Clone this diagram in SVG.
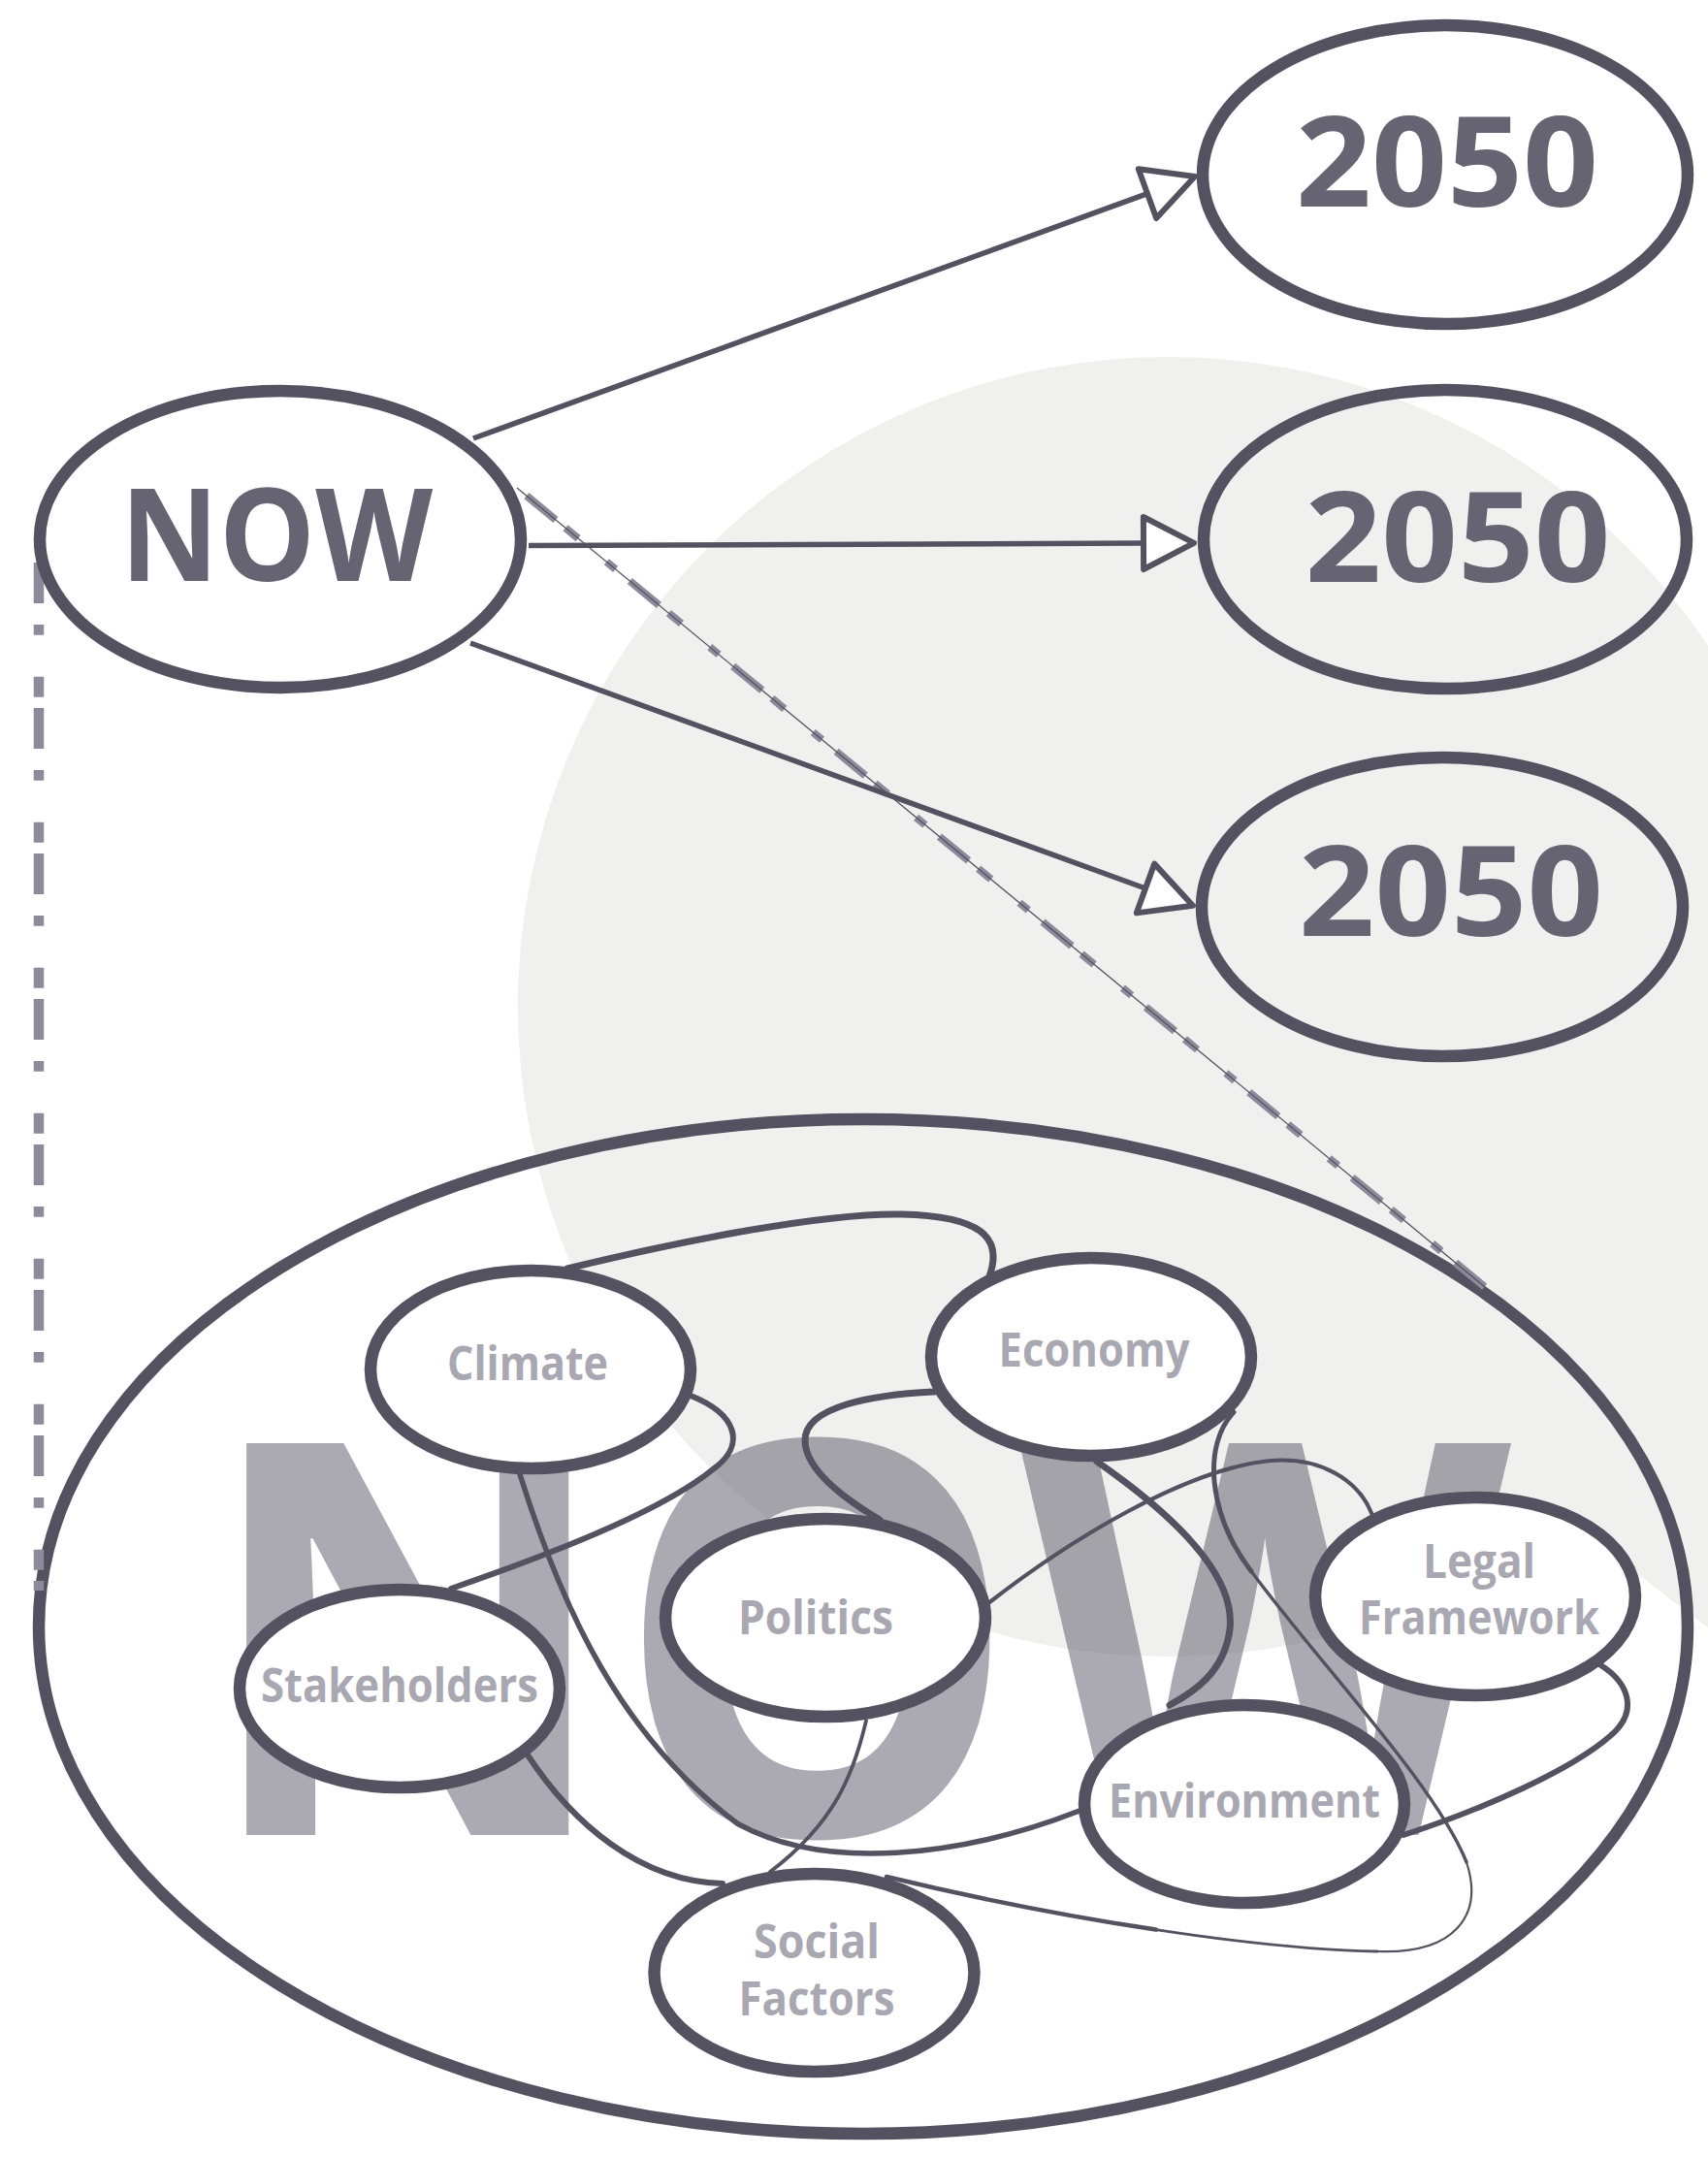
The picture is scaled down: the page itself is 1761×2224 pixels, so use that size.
<svg xmlns="http://www.w3.org/2000/svg" width="1761" height="2224" viewBox="0 0 1761 2224">
<style>
.bg{fill:#f0f0ee}
.nd{stroke:#545260;stroke-width:12.5}
.open{fill:none}
.solid{fill:#ffffff}
.tb{font-family:"Open Sans","DejaVu Sans",sans-serif;font-weight:700;fill:#666473;text-anchor:middle}
.ts{font-family:"Open Sans","DejaVu Sans",sans-serif;font-weight:700;font-size:48px;fill:#a9a8b2;text-anchor:middle}
.e{fill:none;stroke:#545260;stroke-linecap:round}
.arrow{fill:none;stroke:#545260;stroke-width:5.5}
.dash{fill:none;stroke:#8d8b9b;stroke-linecap:butt}
</style>
<defs>
<marker id="tri" markerUnits="userSpaceOnUse" markerWidth="80" markerHeight="80" viewBox="-10 -40 80 80" refX="3" refY="0" orient="auto">
<path d="M 3 -27 L 55 0 L 3 27 Z" fill="#ffffff" stroke="#545260" stroke-width="6" stroke-linejoin="round"/>
</marker>
</defs>
<g id="background">
<circle class="bg" cx="1204" cy="1038" r="670"/>
<path class="bg" d="M 1560 1500 L 1761 1300 L 1761 1678 C 1730 1655 1700 1632 1678 1614 L 1560 1560 Z"/>
<text x="207" y="1892" font-family="Open Sans, DejaVu Sans, sans-serif" font-weight="700" font-size="566" fill="#666473" fill-opacity="0.55" textLength="1351" lengthAdjust="spacingAndGlyphs">NOW</text>
</g>
<g id="node-now-context">
<ellipse class="nd open" cx="890" cy="1677" rx="850" ry="523"/>
</g>
<g id="connectors">
<path class="dash" d="M 40 580 L 40 1640" stroke-width="10.5" stroke-dasharray="42 22 10.7 43 21 11.3"/>
<path class="dash" d="M 533 503 L 1531 1327" stroke-width="8" stroke-dasharray="39 13 17 38 12 19" stroke-dashoffset="-12.8"/>
<path d="M 533 503 L 1531 1327" fill="none" stroke="#545260" stroke-width="1.3"/>
<path class="arrow" d="M 488 452 L 1183 199.7" marker-end="url(#tri)"/>
<path class="arrow" d="M 545 562.5 L 1179 560" marker-end="url(#tri)"/>
<path class="arrow" d="M 485 663 L 1181 916" marker-end="url(#tri)"/>
<path class="e" stroke-width="7" d="M 585 1308 C 700 1280 850 1250 930 1252 C 1010 1254 1035 1275 1020 1316"/>
<path class="e" stroke-width="6" d="M 712 1439 C 760 1458 770 1490 735 1515 C 680 1560 560 1605 465 1638"/>
<path class="e" stroke-width="5.5" d="M 536 1520 C 580 1660 640 1790 760 1880 C 850 1930 990 1915 1113 1867"/>
<path class="e" stroke-width="7" d="M 963 1435 C 900 1438 830 1450 830 1485 C 830 1515 870 1545 907 1567"/>
<path class="e" stroke-width="4.2" d="M 1019 1653 C 1100 1590 1220 1515 1310 1506 C 1360 1502 1400 1525 1414 1560"/>
<path class="e" stroke-width="6" d="M 543 1808 C 590 1880 660 1940 745 1942"/>
<path class="e" stroke-width="3.8" d="M 893 1774 C 880 1830 860 1880 794 1930"/>
<path class="e" stroke-width="7" d="M 1131 1507 C 1200 1555 1275 1620 1268 1680 C 1262 1725 1230 1745 1206 1758"/>
<path class="e" stroke-width="6" d="M 1649 1716 C 1680 1735 1690 1765 1660 1790 C 1620 1825 1530 1865 1447 1892"/>
<path class="e" stroke-width="5" d="M 1272 1456 C 1240 1490 1245 1560 1290 1620"/>
<path class="e" stroke-width="3.4" d="M 1290 1620 C 1360 1715 1480 1840 1512 1920"/>
<path class="e" stroke-width="2.2" d="M 1512 1920 C 1530 1975 1500 2015 1420 2012"/>
<path class="e" stroke-width="2.8" d="M 1420 2012 C 1360 2011 1280 2003 1191.75 1989.6"/>
<path class="e" stroke-width="4.6" d="M 1191.75 1989.6 C 1103.5 1976.25 1007 1957.5 914 1935"/>
</g>
<g id="node-climate">
<ellipse class="nd solid" cx="547" cy="1412" rx="165" ry="102"/>
<text class="ts" x="544" y="1423" textLength="166" lengthAdjust="spacingAndGlyphs">Climate</text>
</g>
<g id="node-economy">
<ellipse class="nd solid" cx="1125" cy="1399" rx="165" ry="102"/>
<text class="ts" x="1128" y="1409" textLength="197" lengthAdjust="spacingAndGlyphs">Economy</text>
</g>
<g id="node-politics">
<ellipse class="nd solid" cx="851" cy="1668" rx="165" ry="102"/>
<text class="ts" x="841" y="1685" textLength="160" lengthAdjust="spacingAndGlyphs">Politics</text>
</g>
<g id="node-stakeholders">
<ellipse class="nd solid" cx="412" cy="1741" rx="165" ry="102"/>
<text class="ts" x="412" y="1755" textLength="286" lengthAdjust="spacingAndGlyphs">Stakeholders</text>
</g>
<g id="node-legal">
<ellipse class="nd solid" cx="1521" cy="1646" rx="165" ry="102"/>
<text class="ts" x="1525" y="1627" textLength="116" lengthAdjust="spacingAndGlyphs">Legal</text>
<text class="ts" x="1525" y="1685" textLength="248" lengthAdjust="spacingAndGlyphs">Framework</text>
</g>
<g id="node-environment">
<ellipse class="nd solid" cx="1283" cy="1860" rx="165" ry="102"/>
<text class="ts" x="1283" y="1874" textLength="280" lengthAdjust="spacingAndGlyphs">Environment</text>
</g>
<g id="node-social">
<ellipse class="nd solid" cx="839.5" cy="2034" rx="165" ry="102"/>
<text class="ts" x="842" y="2019" textLength="130" lengthAdjust="spacingAndGlyphs">Social</text>
<text class="ts" x="842" y="2078" textLength="161" lengthAdjust="spacingAndGlyphs">Factors</text>
</g>
<g id="node-now">
<ellipse class="nd open" cx="289" cy="556" rx="248" ry="153"/>
<text class="tb" x="285" y="599" font-size="132" textLength="322" lengthAdjust="spacingAndGlyphs">NOW</text>
</g>
<g id="node-2050-top">
<ellipse class="nd open" cx="1490" cy="180" rx="250" ry="154"/>
<text class="tb" x="1492" y="213" font-size="130" textLength="312" lengthAdjust="spacingAndGlyphs">2050</text>
</g>
<g id="node-2050-middle">
<ellipse class="nd open" cx="1490" cy="556" rx="249" ry="154"/>
<text class="tb" x="1503" y="600" font-size="130" textLength="315" lengthAdjust="spacingAndGlyphs">2050</text>
</g>
<g id="node-2050-bottom">
<ellipse class="nd open" cx="1487" cy="935" rx="248" ry="154"/>
<text class="tb" x="1496" y="965" font-size="130" textLength="314" lengthAdjust="spacingAndGlyphs">2050</text>
</g>
</svg>
